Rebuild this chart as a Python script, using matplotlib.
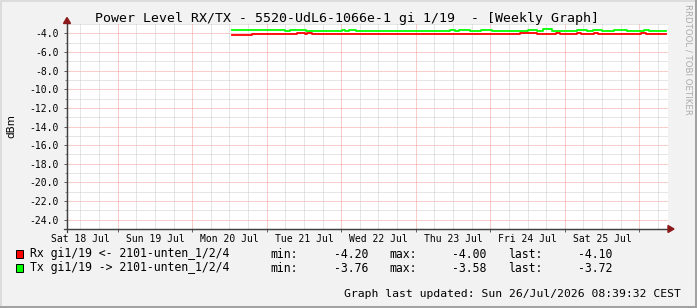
import matplotlib
matplotlib.use("Agg")
import matplotlib.pyplot as plt
import matplotlib.dates as mdates
import numpy as np
from datetime import datetime
from matplotlib.patches import Polygon, Rectangle
from matplotlib.lines import Line2D

# ---------------- data ----------------
title = "Power Level RX/TX - 5520-UdL6-1066e-1 gi 1/19  - [Weekly Graph]"
y_label = "dBm"
watermark = "RRDTOOL / TOBI OETIKER"
day_labels = ["Sat 18 Jul", "Sun 19 Jul", "Mon 20 Jul", "Tue 21 Jul",
              "Wed 22 Jul", "Thu 23 Jul", "Fri 24 Jul", "Sat 25 Jul"]
day_dates = ["2026-07-18", "2026-07-19", "2026-07-20", "2026-07-21",
             "2026-07-22", "2026-07-23", "2026-07-24", "2026-07-25", "2026-07-26"]
x_start = "2026-07-18 07:42"
x_end = "2026-07-26 09:14"
y_min, y_max = -25.0, -3.0

rx_times = ["2026-07-20 12:54", "2026-07-20 19:21", "2026-07-21 09:48", "2026-07-21 12:24",
            "2026-07-21 13:03", "2026-07-21 14:40", "2026-07-24 09:36", "2026-07-24 15:06",
            "2026-07-24 21:12", "2026-07-24 22:30", "2026-07-25 03:58", "2026-07-25 05:15",
            "2026-07-25 09:26", "2026-07-25 10:43", "2026-07-26 00:35", "2026-07-26 02:12",
            "2026-07-26 08:35"]
rx_values = [-4.20, -4.10, -4.00, -4.10,
             -4.00, -4.10, -4.00, -4.10,
             -4.00, -4.10, -4.00, -4.10,
             -4.00, -4.10, -4.00, -4.10,
             -4.10]

tx_times = ["2026-07-20 12:54", "2026-07-21 05:58", "2026-07-21 07:34", "2026-07-21 12:43",
            "2026-07-22 00:18", "2026-07-22 01:16", "2026-07-22 02:34", "2026-07-22 04:48",
            "2026-07-22 18:59", "2026-07-22 22:12", "2026-07-23 11:04", "2026-07-23 12:41",
            "2026-07-23 14:00", "2026-07-23 17:30", "2026-07-23 21:00", "2026-07-24 00:30",
            "2026-07-24 12:00", "2026-07-24 15:00", "2026-07-24 17:00", "2026-07-24 20:00",
            "2026-07-25 04:00", "2026-07-25 07:00", "2026-07-25 09:00", "2026-07-25 12:00",
            "2026-07-25 16:00", "2026-07-25 20:00", "2026-07-26 01:30", "2026-07-26 03:00",
            "2026-07-26 08:35"]
tx_values = [-3.60, -3.70, -3.60, -3.70,
             -3.60, -3.70, -3.60, -3.70,
             -3.76, -3.70, -3.60, -3.70,
             -3.60, -3.70, -3.60, -3.70,
             -3.60, -3.70, -3.58, -3.70,
             -3.60, -3.70, -3.60, -3.70,
             -3.60, -3.70, -3.60, -3.72,
             -3.72]

legend_names = ["Rx gi1/19 <- 2101-unten_1/2/4", "Tx gi1/19 -> 2101-unten_1/2/4"]
legend_colors = ["#FF0000", "#00FF00"]
stat_min = ["-4.20", "-3.76"]
stat_max = ["-4.00", "-3.58"]
stat_last = ["-4.10", "-3.72"]
updated_text = "Graph last updated: Sun 26/Jul/2026 08:39:32 CEST"

# ---------------- layout ----------------
W, H = 697, 308
L, R, T, B = 67, 668, 24, 229
MONO = "DejaVu Sans Mono"


def fx(x):
    return x / W


def fy(y):
    return 1 - y / H


def to_num(s):
    return mdates.date2num(datetime.strptime(s, "%Y-%m-%d %H:%M"))


fig = plt.figure(figsize=(W / 100, H / 100), dpi=100, facecolor="#F2F2F2")
ax = fig.add_axes([fx(L), fy(B), (R - L) / W, (B - T) / H])
ax.set_facecolor("white")

x0, x1 = to_num(x_start), to_num(x_end)

# grid (dotted, 1px on / 1px off)
minor_col = "#CDCDCD"
major_col = "#F49A9A"
grid_kw = dict(linewidth=0.72, linestyle=(0, (1, 1)), zorder=1)
for v in np.arange(-25, -3 + 0.5, 1.0):
    ax.axhline(v, color=major_col if v % 2 == 0 else minor_col, **grid_kw)
days = [mdates.date2num(datetime.strptime(d, "%Y-%m-%d")) for d in day_dates]
vgrid_minor = []
for d in days:
    for k in (1, 2, 3):
        vgrid_minor.append(d - 1 + k / 4.0)
for k in (1, 2, 3):
    vgrid_minor.append(days[-1] + k / 4.0)
for v in vgrid_minor:
    if x0 < v < x1:
        ax.axvline(v, color=minor_col, **grid_kw)
for d in days:
    if x0 < d < x1:
        ax.axvline(d, color=major_col, **grid_kw)

# series
rx_x = [to_num(t) for t in rx_times]
tx_x = [to_num(t) for t in tx_times]
ax.step(rx_x, rx_values, where="post", color="#FF0000", linewidth=1.3, zorder=3)
ax.step(tx_x, tx_values, where="post", color="#00FF00", linewidth=1.3, zorder=3)

# ticks
ax.set_yticks(np.arange(-24, -3, 2))
ax.set_yticklabels([f"{v:.1f}" for v in np.arange(-24, -3, 2)], family=MONO, fontsize=7)
ax.set_yticks(np.arange(-25, -3, 2), minor=True)
ax.tick_params(axis="y", which="major", length=2, width=0.72, color="#606060", pad=4, direction="out")
ax.tick_params(axis="y", which="minor", length=1.5, width=0.72, color="#909090", direction="out")

mid_in = [d for d in days if x0 < d < x1]
ax.set_xticks(mid_in)
ax.set_xticklabels([""] * len(mid_in))
noons = [d + 0.5 for d in days[:-1]]
ax.set_xticks(noons, minor=True)
ax.set_xticklabels(day_labels, minor=True, family=MONO, fontsize=7)
ax.tick_params(axis="x", which="major", length=2, width=0.72, color="#606060", direction="out")
ax.tick_params(axis="x", which="minor", length=0, pad=3.3)

ax.set_xlim(x0, x1)
ax.set_ylim(y_min, y_max)

for s in ("top", "right"):
    ax.spines[s].set_visible(False)
for s in ("left", "bottom"):
    ax.spines[s].set_color("#404040")
    ax.spines[s].set_linewidth(0.9)
    ax.spines[s].set_zorder(4)

# arrows
arrow_col = "#8B1A1A"
fig.patches.append(Polygon([(fx(L - 3.5), fy(T - 0.5)), (fx(L + 3.5), fy(T - 0.5)), (fx(L), fy(T - 6.5))],
                           closed=True, transform=fig.transFigure, color=arrow_col, zorder=5))
fig.patches.append(Polygon([(fx(R), fy(B - 3.5)), (fx(R), fy(B + 3.5)), (fx(R + 6), fy(B))],
                           closed=True, transform=fig.transFigure, color=arrow_col, zorder=5))
fig.lines.append(Line2D([fx(L), fx(L)], [fy(B + 3), fy(T)], transform=fig.transFigure,
                        color="#404040", linewidth=0.9))
fig.lines.append(Line2D([fx(L - 3), fx(R)], [fy(B), fy(B)], transform=fig.transFigure,
                        color="#404040", linewidth=0.9))

# texts
fig.text(fx(347), fy(18.5), title, ha="center", va="center", family=MONO, fontsize=9.5, color="#000000")
fig.text(fx(11.5), fy(126), y_label, ha="center", va="center", rotation=90, family="DejaVu Sans",
         fontsize=7.5, color="#000000")
fig.text(fx(688), fy(4), watermark, ha="center", va="top", rotation=270, family="DejaVu Sans",
         fontsize=6.2, color="#ABABAB")

row_y = [254, 268]
for i in range(2):
    fig.patches.append(Rectangle((fx(15.5), fy(row_y[i] + 4)), 7.5 / W, 8 / H, transform=fig.transFigure,
                                 facecolor=legend_colors[i], edgecolor="#000000", linewidth=0.7))
    fig.text(fx(29.8), fy(row_y[i]), legend_names[i], ha="left", va="center", family=MONO, fontsize=8.3)
    fig.text(fx(270), fy(row_y[i]), "min:", ha="left", va="center", family=MONO, fontsize=8.3)
    fig.text(fx(368), fy(row_y[i]), stat_min[i], ha="right", va="center", family=MONO, fontsize=8.3)
    fig.text(fx(389), fy(row_y[i]), "max:", ha="left", va="center", family=MONO, fontsize=8.3)
    fig.text(fx(486.5), fy(row_y[i]), stat_max[i], ha="right", va="center", family=MONO, fontsize=8.3)
    fig.text(fx(508), fy(row_y[i]), "last:", ha="left", va="center", family=MONO, fontsize=8.3)
    fig.text(fx(612.5), fy(row_y[i]), stat_last[i], ha="right", va="center", family=MONO, fontsize=8.3)

fig.text(fx(680.5), fy(294), updated_text, ha="right", va="center", family=MONO, fontsize=8.2)

# frame
fig.lines.append(Line2D([0, 1], [fy(1), fy(1)], transform=fig.transFigure, color="#DCDCDC", linewidth=1.4))
fig.lines.append(Line2D([fx(1), fx(1)], [0, 1], transform=fig.transFigure, color="#DCDCDC", linewidth=1.4))
fig.lines.append(Line2D([0, 1], [fy(307), fy(307)], transform=fig.transFigure, color="#A0A0A0", linewidth=1.4))
fig.lines.append(Line2D([fx(696), fx(696)], [0, 1], transform=fig.transFigure, color="#A0A0A0", linewidth=1.4))

fig.savefig("out.png", dpi=100, facecolor=fig.get_facecolor())
